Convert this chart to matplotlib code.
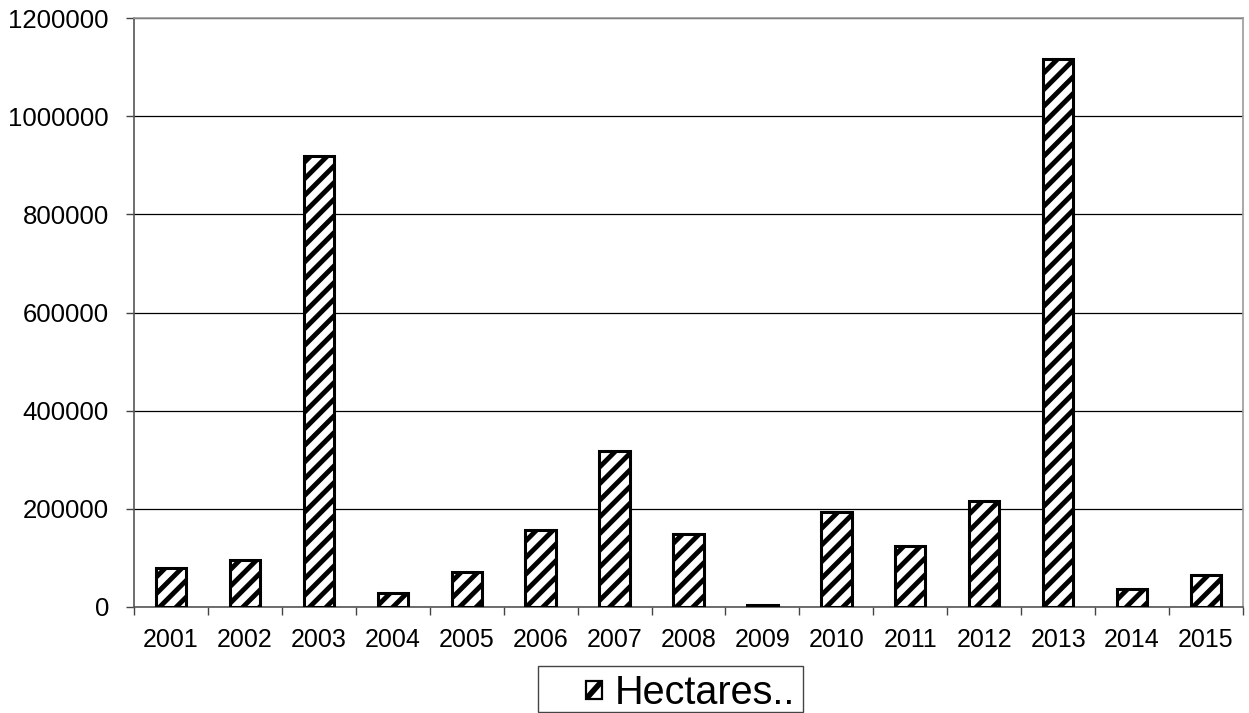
import matplotlib
matplotlib.use("Agg")
import matplotlib.pyplot as plt
import numpy as np
from matplotlib.ticker import FixedLocator
from matplotlib.patches import Rectangle
from matplotlib.lines import Line2D

years = ["2001", "2002", "2003", "2004", "2005", "2006", "2007", "2008",
         "2009", "2010", "2011", "2012", "2013", "2014", "2015"]
hectares = [80000, 96000, 919000, 28000, 71000, 157000, 318000, 149000,
            5000, 193000, 125000, 216000, 1116000, 37000, 66000]
y_ticks = [0, 200000, 400000, 600000, 800000, 1000000, 1200000]
series_name = "Hectares.."

plt.rcParams["font.family"] = ["Liberation Sans", "DejaVu Sans"]
plt.rcParams["hatch.linewidth"] = 3.5

W, H = 1249, 713
fig = plt.figure(figsize=(W / 100, H / 100), dpi=100)
ax = fig.add_axes([134 / W, 1 - 607 / H, (1243 - 134) / W, (607 - 18) / H])

x = np.arange(len(years))
ax.bar(x, hectares, width=0.41, color="white", edgecolor="black",
       linewidth=2.2, hatch="//", zorder=3)

ax.set_xlim(-0.5, len(years) - 0.5)
ax.set_ylim(0, 1200000)
ax.set_yticks(y_ticks)
ax.set_yticklabels([str(v) for v in y_ticks], fontsize=18.5)
ax.set_xticks(x)
ax.set_xticklabels(years, fontsize=18)
ax.xaxis.set_minor_locator(FixedLocator(np.arange(-0.5, len(years), 1.0)))
ax.tick_params(axis="x", which="major", length=0, pad=15)
ax.tick_params(axis="x", which="minor", length=6, width=1, color="#444444")
ax.tick_params(axis="y", length=6, width=1, color="#444444", pad=12)

ax.yaxis.grid(True, color="black", linewidth=0.9, zorder=0)
ax.set_axisbelow(True)
for side, spine in ax.spines.items():
    spine.set_linewidth(1.2)
    spine.set_color("#555555" if side in ("left", "bottom") else "#999999")

# Legend box below the plot: frame, hatched swatch and series name
def fx(px):
    return px / W

def fy(py):
    return 1 - py / H

frame = Rectangle((fx(538), fy(712)), fx(803) - fx(538), fy(666) - fy(712),
                  transform=fig.transFigure, facecolor="white",
                  edgecolor="#444444", linewidth=1.0)
fig.add_artist(frame)
swatch = Rectangle((fx(586), fy(699)), fx(602) - fx(586), fy(681) - fy(699),
                   transform=fig.transFigure, facecolor="white",
                   edgecolor="black", linewidth=1.6)
fig.add_artist(swatch)
stripe = Line2D([fx(586), fx(602)], [fy(699), fy(681)], transform=fig.transFigure,
                color="black", linewidth=4.0, solid_capstyle="butt")
stripe.set_clip_path(swatch)
fig.add_artist(stripe)
fig.text(fx(615), fy(689), series_name, fontsize=28.5, ha="left",
         va="center_baseline")

fig.savefig("out.png", dpi=100)
